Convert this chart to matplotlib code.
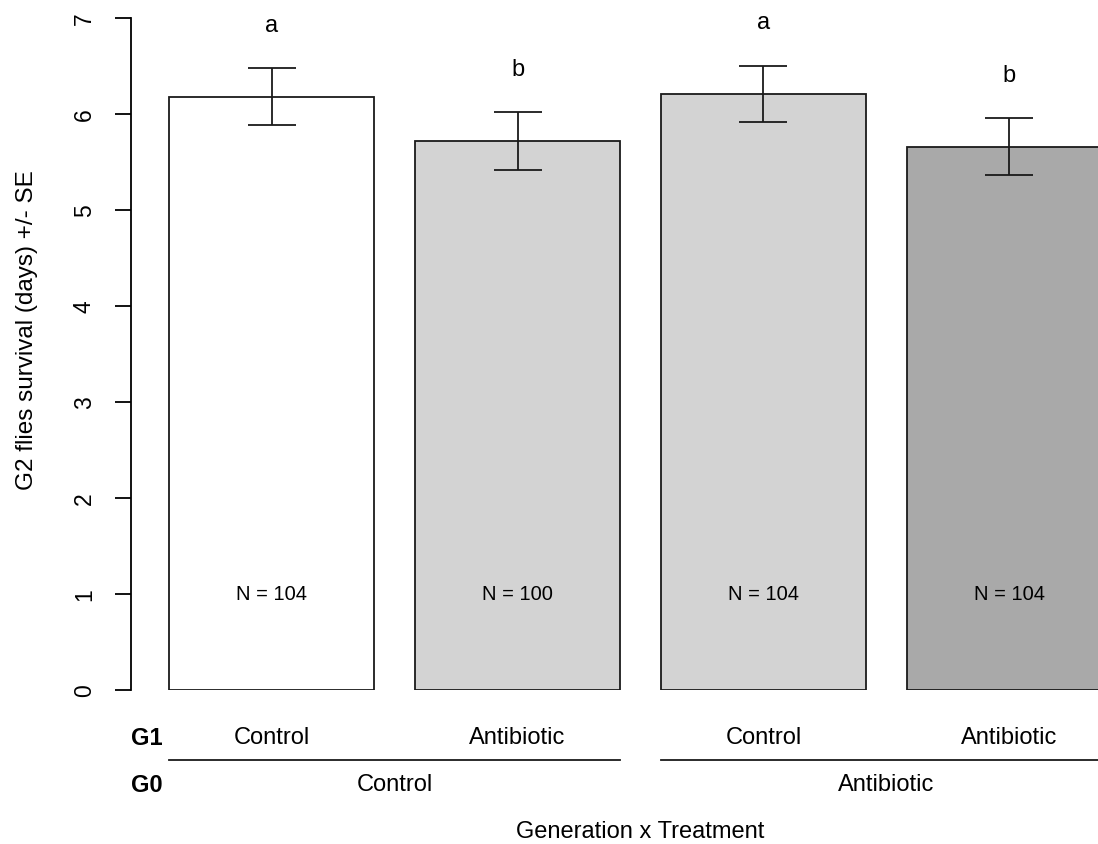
import numpy as np
import matplotlib
matplotlib.use('Agg')
import matplotlib.pyplot as plt

plt.rcParams['font.family'] = ['Liberation Sans', 'DejaVu Sans']

# data
g0 = ['Control', 'Control', 'Antibiotic', 'Antibiotic']
g1 = ['Control', 'Antibiotic', 'Control', 'Antibiotic']
means = [6.18, 5.72, 6.21, 5.66]
se = [0.295, 0.30, 0.295, 0.30]
n = [104, 100, 104, 104]
letters = ['a', 'b', 'a', 'b']

fills = ['white', '#d3d3d3', '#d3d3d3', '#a9a9a9']

# R barplot layout: width 1, space 0.2
x = 0.2 + 1.2 * np.arange(len(means)) + 0.5

fig = plt.figure(figsize=(10.98, 8.45), dpi=100)
ax = fig.add_axes([131.3 / 1098, (845 - 691) / 845, 1018.4 / 1098, 672 / 845])

ax.bar(x, means, width=1.0, color=fills, edgecolor='#1a1a1a', linewidth=1.3)
ax.errorbar(x, means, yerr=se, fmt='none', ecolor='#1a1a1a',
            elinewidth=1.3, capsize=17, capthick=1.3)

for xi, m, s, lab, ni in zip(x, means, se, letters, n):
    ax.text(xi, m + s + 0.45, lab, ha='center', va='center', fontsize=17)
    ax.text(xi, 1.0, 'N = {}'.format(ni), ha='center', va='center', fontsize=14.5)

ax.set_xlim(0.016, 4.984)
ax.set_ylim(0, 7)
ax.set_xticks([])
ax.set_yticks(range(8))
ax.tick_params(axis='y', length=11.5, width=1.3, pad=14, labelsize=16.5)
plt.setp(ax.get_yticklabels(), rotation=90, va='center')
for side in ['top', 'right', 'bottom']:
    ax.spines[side].set_visible(False)
ax.spines['left'].set_linewidth(1.3)

# two-level category labels under the bars
yrow1, yline, yrow0 = -0.49, -0.73, -0.98
trans = ax.get_yaxis_transform()
ax.text(0.0, yrow1, 'G1', transform=trans, ha='left', va='center',
        fontsize=17, fontweight='bold', clip_on=False)
ax.text(0.0, yrow0, 'G0', transform=trans, ha='left', va='center',
        fontsize=17, fontweight='bold', clip_on=False)
for xi, lab in zip(x, g1):
    ax.text(xi, yrow1, lab, ha='center', va='center', fontsize=17, clip_on=False)

groups = []
for i, lab in enumerate(g0):
    if i == 0 or lab != g0[i - 1]:
        groups.append([lab, i, i])
    else:
        groups[-1][2] = i
for lab, i0, i1 in groups:
    left, right = x[i0] - 0.5, x[i1] + 0.5
    ax.plot([left, right], [yline, yline], color='#1a1a1a', lw=1.3, clip_on=False)
    ax.text((left + right) / 2, yrow0, lab, ha='center', va='center',
            fontsize=17, clip_on=False)

ax.text(0.5, -1.47, 'Generation x Treatment', transform=trans,
        ha='center', va='center', fontsize=17, clip_on=False)
fig.text(27 / 1098, 1 - 330 / 845, 'G2 flies survival (days) +/- SE',
         rotation=90, ha='center', va='center', fontsize=17.5)

fig.savefig('out.png', dpi=100)
